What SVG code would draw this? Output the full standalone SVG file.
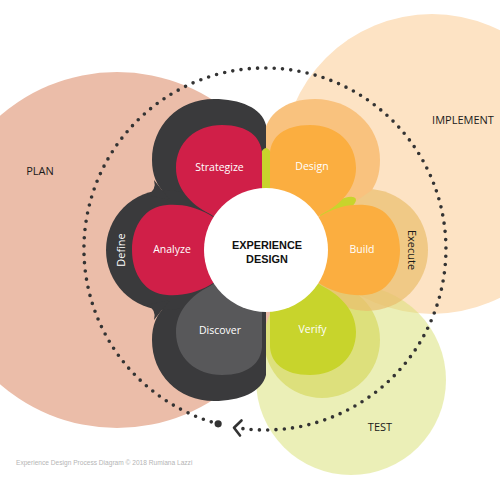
<svg xmlns="http://www.w3.org/2000/svg" width="500" height="500" viewBox="0 0 500 500">
<style>
.pl{font-family:"Open Sans","Liberation Sans",sans-serif;font-size:10.5px;fill:#fff;text-anchor:middle}
.ph{font-family:"Open Sans","Liberation Sans",sans-serif;font-size:11px;fill:#1a1a1a;text-anchor:middle}
.ctr{font-family:"Liberation Sans",Arial,sans-serif;font-size:10.9px;font-weight:700;fill:#111;text-anchor:middle}
.dark{fill:#3a3a3c}
.crimson{fill:#d01f48}
.orange{fill:#fbae40}
.green{fill:#c8d42c}
</style>
<defs>
<path id="pS" d="M0,0 L-56,-36 C-76,-46 -90,-62 -90,-82 C-90,-108 -70,-125 -44,-125 C-18,-125 -5,-113 -4,-97 C-4,-80 -4,-60 -4,0 Z"/>
<path id="pA" d="M0,0 L-56,-35 C-70,-43 -84,-46 -99,-45 C-120,-44 -134,-25 -134,0 C-134,25 -120,44 -99,45 C-84,46 -70,43 -56,35 Z"/>
<path id="lobeTop" d="M266,250 L266,125 C262,108 240,99 214,99 C178,99 152,126 152,160 C152,175 157,186 165,193 L200,225 Z"/>
<path id="fillet" d="M154,180 Q157,190 147,195 L170,200 Z"/>
</defs>
<g id="phases">
<circle id="plan-bg" cx="117" cy="250" r="178" fill="#ebbda9"/>
<circle id="implement-bg" cx="432" cy="164" r="150" fill="#fde3c4"/>
<circle id="test-bg" cx="351" cy="380" r="95" fill="#d8e070" fill-opacity="0.5"/>
</g>
<g id="right-outer">
<circle id="verify-outer" cx="322" cy="340" r="58" fill="#dde07c"/>
<circle id="execute-outer" cx="367" cy="250" r="61" fill="#e9bd6c" fill-opacity="0.7"/>
<path id="design-outer" d="M266,250 L264,135 C266,115 285,99 315,99 C350,99 380,125 380,160 C380,175 376,183 372,190 L300,240 Z" fill="#f9c27e"/>
</g>
<g id="define" class="dark">
<use href="#lobeTop"/>
<use href="#lobeTop" transform="translate(0,500) scale(1,-1)"/>
<circle cx="166" cy="250" r="60"/>
<circle cx="235" cy="250" r="50"/>
<use href="#fillet"/>
<use href="#fillet" transform="translate(0,500) scale(1,-1)"/>
</g>
<g id="slivers" class="green">
<ellipse cx="266" cy="170" rx="8" ry="22"/>
<ellipse cx="338" cy="208" rx="20" ry="7" transform="rotate(-28 338 208)"/>
</g>
<g id="strategize">
<use href="#pS" class="crimson" transform="translate(266,250)"/>
<text class="pl" x="219.5" y="171">Strategize</text>
</g>
<g id="analyze">
<use href="#pA" class="crimson" transform="translate(266,250)"/>
<text class="pl" x="172" y="253">Analyze</text>
</g>
<g id="discover">
<use href="#pS" fill="#58585a" transform="translate(266,250) scale(1,-1)"/>
<text class="pl" x="220" y="334">Discover</text>
</g>
<g id="design">
<use href="#pS" class="orange" transform="translate(266,250) scale(-1,1)"/>
<text class="pl" x="312" y="170">Design</text>
</g>
<g id="build">
<use href="#pA" class="orange" transform="translate(266,250) scale(-1,1)"/>
<text class="pl" x="362" y="253">Build</text>
</g>
<g id="verify">
<use href="#pS" class="green" transform="translate(266,250) scale(-1,-1)"/>
<text class="pl" x="312.5" y="333">Verify</text>
</g>
<g id="center">
<circle cx="266" cy="250" r="62" fill="#fff"/>
<text class="ctr" x="267" y="249">EXPERIENCE</text>
<text class="ctr" x="267" y="262.5">DESIGN</text>
</g>
<g id="group-labels">
<text class="pl" style="font-size:11px" transform="translate(125,250) rotate(-90)">Define</text>
<text class="ph" transform="translate(408,250) rotate(90)">Execute</text>
<text class="ph" x="40" y="175">PLAN</text>
<text class="ph" x="463" y="124">IMPLEMENT</text>
<text class="ph" x="380" y="431">TEST</text>
</g>
<g id="connectors">
<path d="M242.94,428.65 A181,181 0 1 0 218.15,423.84" fill="none" stroke="#333" stroke-width="3.6" stroke-linecap="round" stroke-dasharray="0 8.3"/>
<circle cx="218.15" cy="423.84" r="3.6" fill="#333"/>
<polyline points="241.5,420.5 234,427.8 240,435.5" fill="none" stroke="#333" stroke-width="2.6" stroke-linecap="round" stroke-linejoin="round"/>
</g>
<text x="16" y="465" font-family="Liberation Sans, Arial, sans-serif" font-size="6.6" fill="#b5b5b5">Experience Design Process Diagram © 2018 Rumiana Lazzi</text>
</svg>
